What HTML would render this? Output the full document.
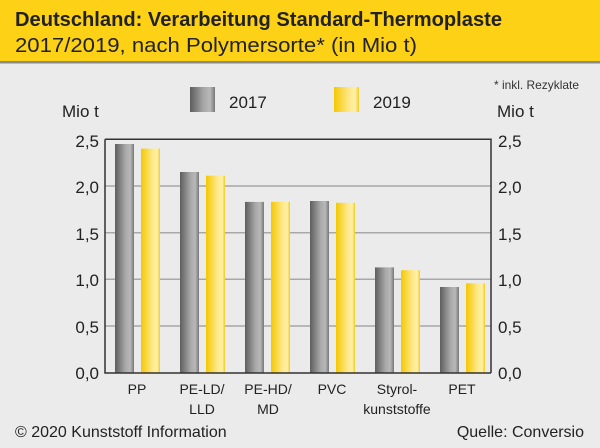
<!DOCTYPE html>
<html><head><meta charset="utf-8"><style>
body{margin:0;width:600px;height:443px;overflow:hidden;background:#ebebeb;font-family:"Liberation Sans",sans-serif;}
</style></head><body>
<svg width="600" height="443" xmlns="http://www.w3.org/2000/svg" font-family="Liberation Sans, sans-serif">
<defs>
<linearGradient id="g" x1="0" x2="1"><stop offset="0" stop-color="#5e5e5e"/><stop offset="0.55" stop-color="#a8a8a8"/><stop offset="0.8" stop-color="#b8b8b8"/><stop offset="1" stop-color="#777"/></linearGradient>
<linearGradient id="y" x1="0" x2="1"><stop offset="0" stop-color="#f5c800"/><stop offset="0.6" stop-color="#fde88a"/><stop offset="0.85" stop-color="#fff0a8"/><stop offset="1" stop-color="#f3cc20"/></linearGradient>
</defs>
<rect x="0" y="0" width="600" height="61" fill="#fcd116"/>
<rect x="0" y="61" width="600" height="2.5" fill="#8a8a8a"/>
<text x="15" y="26" font-size="20" font-weight="bold" fill="#222" textLength="487" lengthAdjust="spacingAndGlyphs">Deutschland: Verarbeitung Standard-Thermoplaste</text>
<text x="15" y="52" font-size="20" fill="#222" textLength="402" lengthAdjust="spacingAndGlyphs">2017/2019, nach Polymersorte* (in Mio t)</text>
<text x="579" y="89" font-size="12" fill="#333" text-anchor="end" textLength="85" lengthAdjust="spacingAndGlyphs">* inkl. Rezyklate</text>
<rect x="190" y="87" width="25" height="25" fill="url(#g)"/>
<text x="229" y="108" font-size="17" fill="#222">2017</text>
<rect x="334" y="87" width="25" height="25" fill="url(#y)"/>
<text x="373" y="108" font-size="17" fill="#222">2019</text>
<text x="62" y="117" font-size="17" fill="#222">Mio t</text>
<text x="497" y="117" font-size="17" fill="#222">Mio t</text>
<g stroke="#a8a8a8" stroke-width="1.5">
<line x1="105" x2="491" y1="186" y2="186"/><line x1="105" x2="491" y1="232.7" y2="232.7"/><line x1="105" x2="491" y1="279.3" y2="279.3"/><line x1="105" x2="491" y1="326" y2="326"/>
</g>
<g font-size="17" fill="#222">
<text x="99" y="147" text-anchor="end">2,5</text><text x="99" y="193" text-anchor="end">2,0</text><text x="99" y="240" text-anchor="end">1,5</text><text x="99" y="286" text-anchor="end">1,0</text><text x="99" y="333" text-anchor="end">0,5</text><text x="99" y="379" text-anchor="end">0,0</text>
<text x="498" y="147">2,5</text><text x="498" y="193">2,0</text><text x="498" y="240">1,5</text><text x="498" y="286">1,0</text><text x="498" y="333">0,5</text><text x="498" y="379">0,0</text>
</g>
<g>
<rect x="115" y="144" width="19" height="229" fill="url(#g)"/><rect x="141" y="148.6" width="19" height="224.4" fill="url(#y)"/>
<rect x="180" y="172" width="19" height="201" fill="url(#g)"/><rect x="206" y="175.7" width="19" height="197.3" fill="url(#y)"/>
<rect x="245" y="201.9" width="19" height="171.1" fill="url(#g)"/><rect x="271" y="201.9" width="19" height="171.1" fill="url(#y)"/>
<rect x="310" y="201" width="19" height="172" fill="url(#g)"/><rect x="336" y="202.8" width="19" height="170.2" fill="url(#y)"/>
<rect x="375" y="267.4" width="19" height="105.6" fill="url(#g)"/><rect x="401" y="270.2" width="19" height="102.8" fill="url(#y)"/>
<rect x="440" y="287" width="19" height="86" fill="url(#g)"/><rect x="466" y="283.3" width="19" height="89.7" fill="url(#y)"/>
</g>
<path d="M105 139.3 H491 V373 M105 139.3 V373 H491" fill="none" stroke="#333" stroke-width="1.5"/>
<g font-size="14" fill="#222" text-anchor="middle">
<text x="137" y="394">PP</text>
<text x="202" y="394">PE-LD/</text><text x="202" y="414">LLD</text>
<text x="268" y="394">PE-HD/</text><text x="268" y="414">MD</text>
<text x="332" y="394">PVC</text>
<text x="397" y="394">Styrol-</text><text x="397" y="414">kunststoffe</text>
<text x="462" y="394">PET</text>
</g>
<text x="15" y="437" font-size="16" fill="#222">© 2020 Kunststoff Information</text>
<text x="584" y="437" font-size="16" fill="#222" text-anchor="end">Quelle: Conversio</text>
</svg>
</body></html>
